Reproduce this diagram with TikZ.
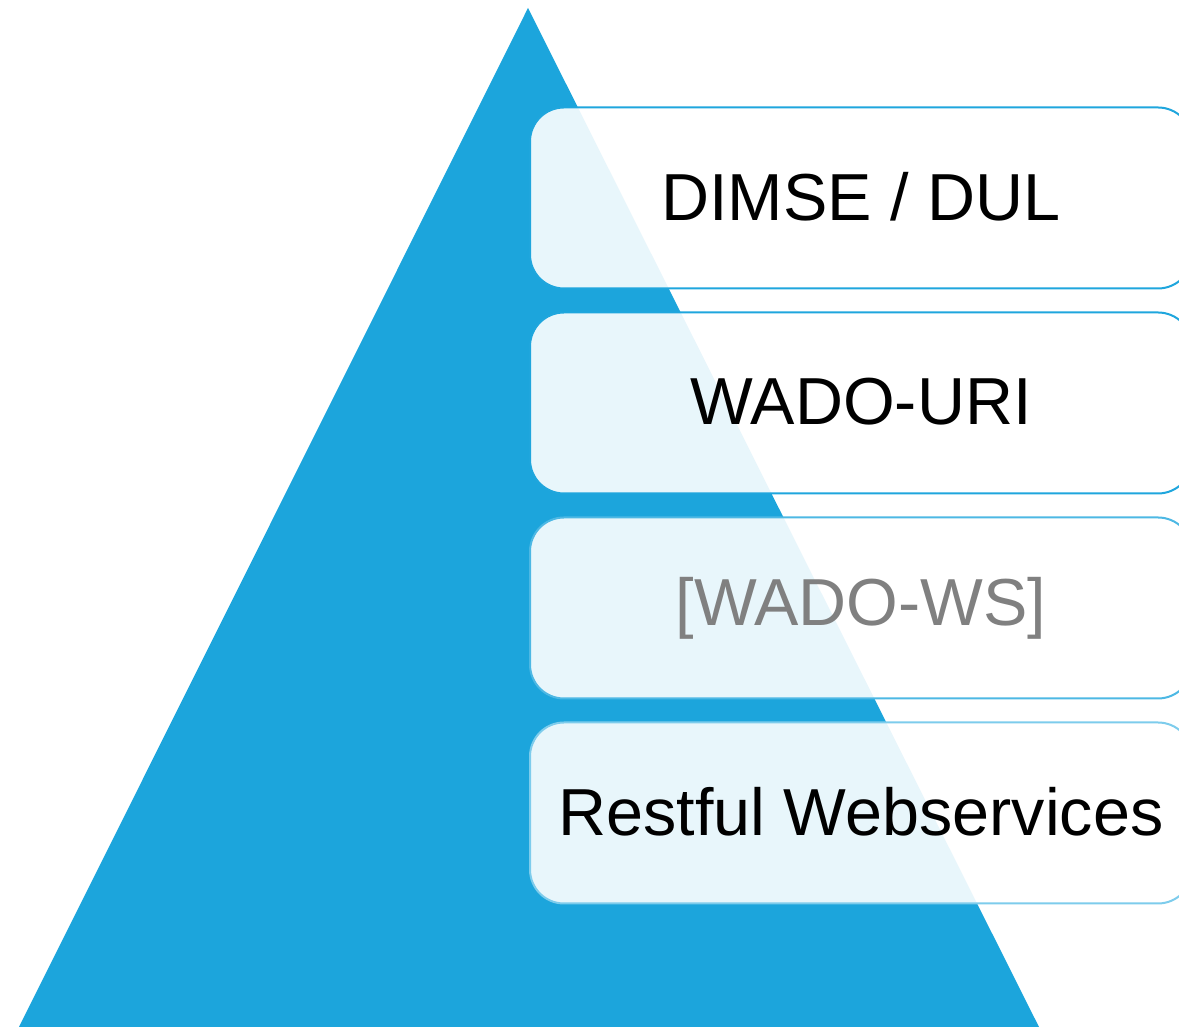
\documentclass[tikz,border=0pt]{standalone}
\usepackage{fontspec}
\setmainfont{Liberation Sans}
\definecolor{triblue}{HTML}{1CA5DC}
\definecolor{edgeA}{HTML}{1FA6DD}
\definecolor{edgeB}{HTML}{4DB8E4}
\definecolor{edgeC}{HTML}{7DCCEC}
\definecolor{graytext}{HTML}{808080}
\begin{document}
\begin{tikzpicture}[x=1pt,y=1pt,
  layer/.style={draw, line width=2pt, rounded corners=34pt, fill=white, fill opacity=0.9, text opacity=1,
    minimum width=662pt, minimum height=181pt, inner sep=0pt,
    font=\fontsize{66.5}{72}\selectfont}]
\useasboundingbox (0,0) rectangle (1179,1027);
\clip (0,0) rectangle (1179,1027);
\fill[triblue] (19,0) coordinate (bl) -- (528,1019) coordinate (apex) -- (1039,0) coordinate (br) -- cycle;
\node[layer, draw=edgeA] (dimse) at (861,829) {\raisebox{3pt}{DIMSE / DUL}};
\node[layer, draw=edgeA] (wadouri) at (861,624) {\raisebox{3pt}{WADO-URI}};
\node[layer, draw=edgeB, text=graytext] (wadows) at (861,419) {\raisebox{3pt}{[WADO-WS]}};
\node[layer, draw=edgeC] (rest) at (861,214) {\raisebox{3pt}{Restful Webservices}};
\end{tikzpicture}
\end{document}
